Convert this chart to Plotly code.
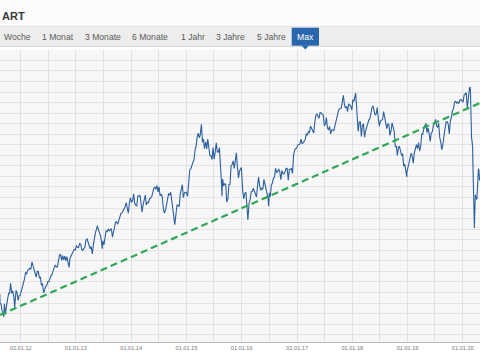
import plotly.graph_objects as go

# ---------------- data (DAX-like index) ----------------
dates = [
 "2011-08-17","2011-08-18","2011-08-26","2011-09-02","2011-09-09","2011-09-12","2011-09-16","2011-09-23","2011-09-30",
 "2011-10-07","2011-10-14","2011-10-21","2011-10-27","2011-11-04","2011-11-11","2011-11-18","2011-11-23","2011-12-02",
 "2011-12-09","2011-12-16","2011-12-23","2011-12-30",
 "2012-01-06","2012-01-13","2012-01-20","2012-01-27","2012-02-03","2012-02-10","2012-02-17","2012-02-24","2012-03-02",
 "2012-03-09","2012-03-16","2012-03-23","2012-03-30","2012-04-06","2012-04-13","2012-04-20","2012-04-27","2012-05-04",
 "2012-05-11","2012-05-18","2012-05-25","2012-06-01","2012-06-08","2012-06-15","2012-06-22","2012-06-29","2012-07-06",
 "2012-07-13","2012-07-20","2012-07-27","2012-08-03","2012-08-10","2012-08-17","2012-08-24","2012-08-31","2012-09-07",
 "2012-09-14","2012-09-21","2012-09-28","2012-10-05","2012-10-12","2012-10-19","2012-10-26","2012-11-02","2012-11-09",
 "2012-11-16","2012-11-23","2012-11-30","2012-12-07","2012-12-14","2012-12-21","2012-12-28",
 "2013-01-04","2013-01-11","2013-01-18","2013-01-25","2013-02-01","2013-02-08","2013-02-15","2013-02-22","2013-03-01",
 "2013-03-08","2013-03-15","2013-03-22","2013-03-28","2013-04-05","2013-04-12","2013-04-19","2013-04-26","2013-05-03",
 "2013-05-10","2013-05-17","2013-05-22","2013-05-31","2013-06-07","2013-06-14","2013-06-24","2013-06-28","2013-07-05",
 "2013-07-12","2013-07-19","2013-07-26","2013-08-02","2013-08-09","2013-08-16","2013-08-23","2013-08-30","2013-09-06",
 "2013-09-13","2013-09-20","2013-09-27","2013-10-04","2013-10-11","2013-10-18","2013-10-25","2013-11-01","2013-11-08",
 "2013-11-15","2013-11-22","2013-11-29","2013-12-06","2013-12-13","2013-12-20","2013-12-27",
 "2014-01-03","2014-01-10","2014-01-17","2014-01-24","2014-01-31","2014-02-07","2014-02-14","2014-02-21","2014-02-28",
 "2014-03-07","2014-03-14","2014-03-21","2014-03-28","2014-04-04","2014-04-11","2014-04-17","2014-04-25","2014-05-02",
 "2014-05-09","2014-05-16","2014-05-23","2014-05-30","2014-06-06","2014-06-13","2014-06-20","2014-06-27","2014-07-04",
 "2014-07-11","2014-07-18","2014-07-25","2014-08-01","2014-08-08","2014-08-15","2014-08-22","2014-08-29","2014-09-05",
 "2014-09-12","2014-09-19","2014-09-26","2014-10-03","2014-10-10","2014-10-16","2014-10-24","2014-10-31","2014-11-07",
 "2014-11-14","2014-11-21","2014-11-28","2014-12-05","2014-12-12","2014-12-19","2014-12-30",
 "2015-01-09","2015-01-16","2015-01-23","2015-01-30","2015-02-06","2015-02-13","2015-02-20","2015-02-27","2015-03-06",
 "2015-03-13","2015-03-20","2015-03-27","2015-04-02","2015-04-10","2015-04-17","2015-04-24","2015-04-30","2015-05-08",
 "2015-05-15","2015-05-22","2015-05-29","2015-06-05","2015-06-12","2015-06-19","2015-06-26","2015-07-03","2015-07-10",
 "2015-07-17","2015-07-24","2015-07-31","2015-08-07","2015-08-14","2015-08-21","2015-08-24","2015-08-28","2015-09-04",
 "2015-09-11","2015-09-18","2015-09-24","2015-10-02","2015-10-09","2015-10-16","2015-10-23","2015-10-30","2015-11-06",
 "2015-11-13","2015-11-20","2015-11-27","2015-12-04","2015-12-11","2015-12-18","2015-12-30",
 "2016-01-08","2016-01-15","2016-01-22","2016-01-29","2016-02-05","2016-02-11","2016-02-19","2016-02-26","2016-03-04",
 "2016-03-11","2016-03-18","2016-03-24","2016-04-01","2016-04-08","2016-04-15","2016-04-22","2016-04-29","2016-05-06",
 "2016-05-13","2016-05-20","2016-05-27","2016-06-03","2016-06-10","2016-06-17","2016-06-24","2016-06-27","2016-07-01",
 "2016-07-08","2016-07-15","2016-07-22","2016-07-29","2016-08-05","2016-08-12","2016-08-19","2016-08-26","2016-09-02",
 "2016-09-09","2016-09-16","2016-09-23","2016-09-30","2016-10-07","2016-10-14","2016-10-21","2016-10-28","2016-11-04",
 "2016-11-11","2016-11-18","2016-11-25","2016-12-02","2016-12-09","2016-12-16","2016-12-23","2016-12-30",
 "2017-01-06","2017-01-13","2017-01-20","2017-01-27","2017-02-03","2017-02-10","2017-02-17","2017-02-24","2017-03-03",
 "2017-03-10","2017-03-17","2017-03-24","2017-03-31","2017-04-07","2017-04-13","2017-04-21","2017-04-28","2017-05-05",
 "2017-05-12","2017-05-19","2017-05-26","2017-06-02","2017-06-09","2017-06-16","2017-06-23","2017-06-30","2017-07-07",
 "2017-07-14","2017-07-21","2017-07-28","2017-08-04","2017-08-11","2017-08-18","2017-08-25","2017-09-01","2017-09-08",
 "2017-09-15","2017-09-22","2017-09-29","2017-10-06","2017-10-13","2017-10-20","2017-10-27","2017-11-03","2017-11-10",
 "2017-11-17","2017-11-24","2017-12-01","2017-12-08","2017-12-15","2017-12-22","2017-12-29",
 "2018-01-05","2018-01-12","2018-01-19","2018-01-23","2018-01-26","2018-02-02","2018-02-09","2018-02-16","2018-02-23",
 "2018-03-02","2018-03-09","2018-03-16","2018-03-23","2018-03-29","2018-04-06","2018-04-13","2018-04-20","2018-04-27",
 "2018-05-04","2018-05-11","2018-05-18","2018-05-25","2018-06-01","2018-06-08","2018-06-15","2018-06-22","2018-06-29",
 "2018-07-06","2018-07-13","2018-07-20","2018-07-27","2018-08-03","2018-08-10","2018-08-17","2018-08-24","2018-08-31",
 "2018-09-07","2018-09-14","2018-09-21","2018-09-28","2018-10-05","2018-10-12","2018-10-19","2018-10-26","2018-11-02",
 "2018-11-09","2018-11-16","2018-11-23","2018-11-30","2018-12-07","2018-12-14","2018-12-21","2018-12-27","2018-12-28",
 "2019-01-04","2019-01-11","2019-01-18","2019-01-25","2019-02-01","2019-02-08","2019-02-15","2019-02-22","2019-03-01",
 "2019-03-08","2019-03-15","2019-03-22","2019-03-29","2019-04-05","2019-04-12","2019-04-18","2019-04-26","2019-05-03",
 "2019-05-10","2019-05-17","2019-05-24","2019-05-31","2019-06-07","2019-06-14","2019-06-21","2019-06-28","2019-07-05",
 "2019-07-12","2019-07-19","2019-07-26","2019-08-02","2019-08-09","2019-08-15","2019-08-23","2019-08-30","2019-09-06",
 "2019-09-13","2019-09-20","2019-09-27","2019-10-04","2019-10-11","2019-10-18","2019-10-25","2019-11-01","2019-11-08",
 "2019-11-15","2019-11-22","2019-11-29","2019-12-06","2019-12-13","2019-12-20","2019-12-30",
 "2020-01-03","2020-01-10","2020-01-17","2020-01-24","2020-01-31","2020-02-07","2020-02-14","2020-02-19","2020-02-21",
 "2020-02-28","2020-03-06","2020-03-09","2020-03-12","2020-03-13","2020-03-16","2020-03-18","2020-03-20","2020-03-24",
 "2020-03-27","2020-04-03","2020-04-09","2020-04-14","2020-04-17","2020-04-21","2020-04-24",
]
dax = [
 5946,5602,5537,5250,5190,5072,5574,5164,5502,
 5675,5967,5971,6346,5966,6057,5800,5430,6080,
 5986,5702,5878,5898,
 6057,6143,6404,6511,6766,6692,6849,6864,6921,
 6880,7157,6996,6947,6775,6583,6801,6801,6561,
 6579,6271,6339,5978,6130,6229,6263,6416,6410,
 6557,6630,6689,6865,6944,7040,6971,6970,7214,
 7412,7451,7216,7398,7233,7380,7203,7363,7163,
 6950,7309,7405,7517,7585,7636,7612,
 7776,7715,7702,7857,7833,7634,7593,7661,7708,
 7986,8043,7913,7795,7659,7745,7459,7815,8122,
 8279,8399,8530,8349,8255,8127,7660,7959,7806,
 8212,8331,8303,8410,8338,8391,8417,8103,8276,
 8510,8675,8665,8592,8725,8869,9001,9010,9078,
 9168,9253,9405,9172,9006,9400,9589,
 9436,9473,9742,9392,9306,9289,9663,9656,9692,
 9350,9057,9342,9588,9695,9316,9409,9402,9556,
 9581,9630,9768,9943,9988,9913,10050,9815,10009,
 9667,9720,9644,9210,9010,9092,9339,9470,9747,
 9691,9799,9490,9195,8788,8572,8987,9326,9291,
 9252,9732,9980,10087,9594,9787,9805,
 9648,10167,10649,10694,10846,10963,11050,11401,11551,
 11901,12039,11868,11967,12375,11689,11811,11454,11709,
 11447,11815,11413,11197,11197,11040,11492,11058,11316,
 11674,11347,11308,11490,10985,10124,9648,10298,10038,
 10123,10104,9428,9553,10096,10104,10795,10850,10988,
 10708,11119,11293,10752,10340,10608,10743,
 9849,9545,9764,9798,9286,8753,9388,9513,9824,
 9831,9950,9851,9794,9622,10051,10373,10039,9870,
 9952,9916,10287,10103,9834,9631,9557,9268,9776,
 9630,10066,10147,10337,10367,10713,10544,10588,10684,
 10573,10276,10627,10511,10490,10580,10711,10696,10259,
 10668,10664,10700,10513,11203,11404,11450,11481,
 11599,11630,11630,11814,11651,11667,11758,11804,12027,
 11963,12095,12064,12313,12225,12109,12049,12438,12717,
 12770,12638,12602,12823,12816,12753,12733,12325,12389,
 12631,12240,12163,12297,12014,12165,12168,12142,12304,
 12519,12592,12829,12956,12992,12991,13217,13478,13127,
 12994,13060,12862,13153,13103,13072,12918,
 13319,13245,13434,13560,13340,12785,12107,12452,12483,
 11913,12346,12390,11886,12097,12241,12442,12540,12580,
 12820,13001,13077,12938,12724,12767,13011,12580,12306,
 12496,12541,12561,12860,12616,12424,12210,12394,12364,
 11959,12124,12430,12247,12111,11524,11554,11201,11519,
 11529,11341,11193,11257,10788,10866,10634,10381,10559,
 10768,10887,11205,11282,11181,10906,11299,11457,11602,
 11458,11686,11364,11526,12010,11999,12222,12315,12412,
 12059,12238,12011,11727,12045,12096,12340,12399,12568,
 12323,12260,12419,11872,11694,11412,11612,11939,12192,
 12469,12468,12381,12013,12512,12634,12895,12962,13229,
 13242,13164,13236,13167,13283,13319,13249,
 13219,13483,13526,13577,12982,13514,13745,13789,13579,
 11890,11542,10625,9161,9232,8742,8442,8929,9701,
 9633,9526,10565,10697,10626,10250,10336,
]
trend_dates = ["2011-08-18", "2020-04-24"]
trend_values = [5146, 13185]

tick_dates = ["2012-01-02", "2012-07-02", "2013-01-01", "2013-07-01", "2014-01-01", "2014-07-01",
              "2015-01-01", "2015-07-01", "2016-01-01", "2016-07-01", "2017-01-02", "2017-07-01",
              "2018-01-01", "2018-07-01", "2019-01-01", "2019-07-01", "2020-01-01"]
tick_labels = ["02.01.12", "", "01.01.13", "", "01.01.14", "", "01.01.15", "", "01.01.16", "",
               "02.01.17", "", "01.01.18", "", "01.01.19", "", "01.01.20"]

header_title = "ART"
tabs = ["Woche", "1 Monat", "3 Monate", "6 Monate", "1 Jahr", "3 Jahre", "5 Jahre", "Max"]
tab_centers = [17, 58.3, 103.3, 150, 192.5, 230.5, 271, 305.3]

# ---------------- layout helpers ----------------
W, H = 480, 360
T, B = 50, 18
PH = H - T - B


def py(p):
    """pixel row -> paper y"""
    return (H - B - p) / PH


def px(p):
    return p / W


FONT = "Liberation Sans, Arial, sans-serif"

fig = go.Figure()
fig.add_trace(go.Scatter(x=dates, y=dax, mode="lines",
                         line=dict(color="#2c5f9e", width=1.1), hoverinfo="skip"))
fig.add_trace(go.Scatter(x=trend_dates, y=trend_values, mode="lines",
                         line=dict(color="#2fa856", width=2.2, dash="7px,4px"), hoverinfo="skip"))

shapes = [
    # header background
    dict(type="rect", xref="paper", yref="paper", x0=0, x1=1, y0=py(27), y1=py(0),
         fillcolor="#fbfbfb", line=dict(width=0), layer="below"),
    # tab bar
    dict(type="rect", xref="paper", yref="paper", x0=0, x1=1, y0=py(46), y1=py(27),
         fillcolor="#ededed", line=dict(width=0), layer="below"),
    dict(type="line", xref="paper", yref="paper", x0=0, x1=1, y0=py(46.5), y1=py(46.5),
         line=dict(color="#d9d9d9", width=1)),
    dict(type="line", xref="paper", yref="paper", x0=0, x1=1, y0=py(26.5), y1=py(26.5),
         line=dict(color="#e4e4e4", width=1)),
    # selected tab
    dict(type="rect", xref="paper", yref="paper", x0=px(291.7), x1=px(319), y0=py(45.7), y1=py(27.7),
         fillcolor="#2867ae", line=dict(width=0)),
    dict(type="path", xref="paper", yref="paper",
         path=f"M {px(301.5)},{py(45.5)} L {px(309)},{py(45.5)} L {px(305.3)},{py(49.5)} Z",
         fillcolor="#2867ae", line=dict(width=0)),
]

annotations = [
    dict(text=f"<b>{header_title}</b>", xref="paper", yref="paper", x=px(-0.5), y=py(15.5),
         xanchor="left", yanchor="middle", showarrow=False,
         font=dict(family=FONT, size=11, color="#3a3a3a")),
]
for t, c in zip(tabs, tab_centers):
    sel = t == "Max"
    annotations.append(dict(text=t, xref="paper", yref="paper", x=px(c), y=py(36.7),
                            xanchor="center", yanchor="middle", showarrow=False,
                            font=dict(family=FONT, size=8.6, color="#ffffff" if sel else "#5a5a5a")))

fig.update_layout(
    width=W, height=H,
    margin=dict(l=0, r=0, t=T, b=B, pad=0),
    paper_bgcolor="#ffffff",
    plot_bgcolor="#f7f7f7",
    showlegend=False,
    shapes=shapes,
    annotations=annotations,
    xaxis=dict(type="date", range=["2011-08-18", "2020-04-24"],
               tickvals=tick_dates, ticktext=tick_labels,
               tickfont=dict(family=FONT, size=5.6, color="#777777"),
               showgrid=True, gridcolor="#e1e1e1", gridwidth=1,
               showline=True, linecolor="#bdbdbd", linewidth=1,
               ticks="", ticklabelstandoff=0, zeroline=False, fixedrange=True),
    yaxis=dict(range=[4122, 15195], tick0=0, dtick=400,
               showticklabels=False, showgrid=True, gridcolor="#e4e4e4", gridwidth=1,
               zeroline=False, ticks="", fixedrange=True),
)

fig.write_html("out.html", config={"displayModeBar": False},
               post_script="document.body.style.margin='0';document.body.style.overflow='hidden';")
